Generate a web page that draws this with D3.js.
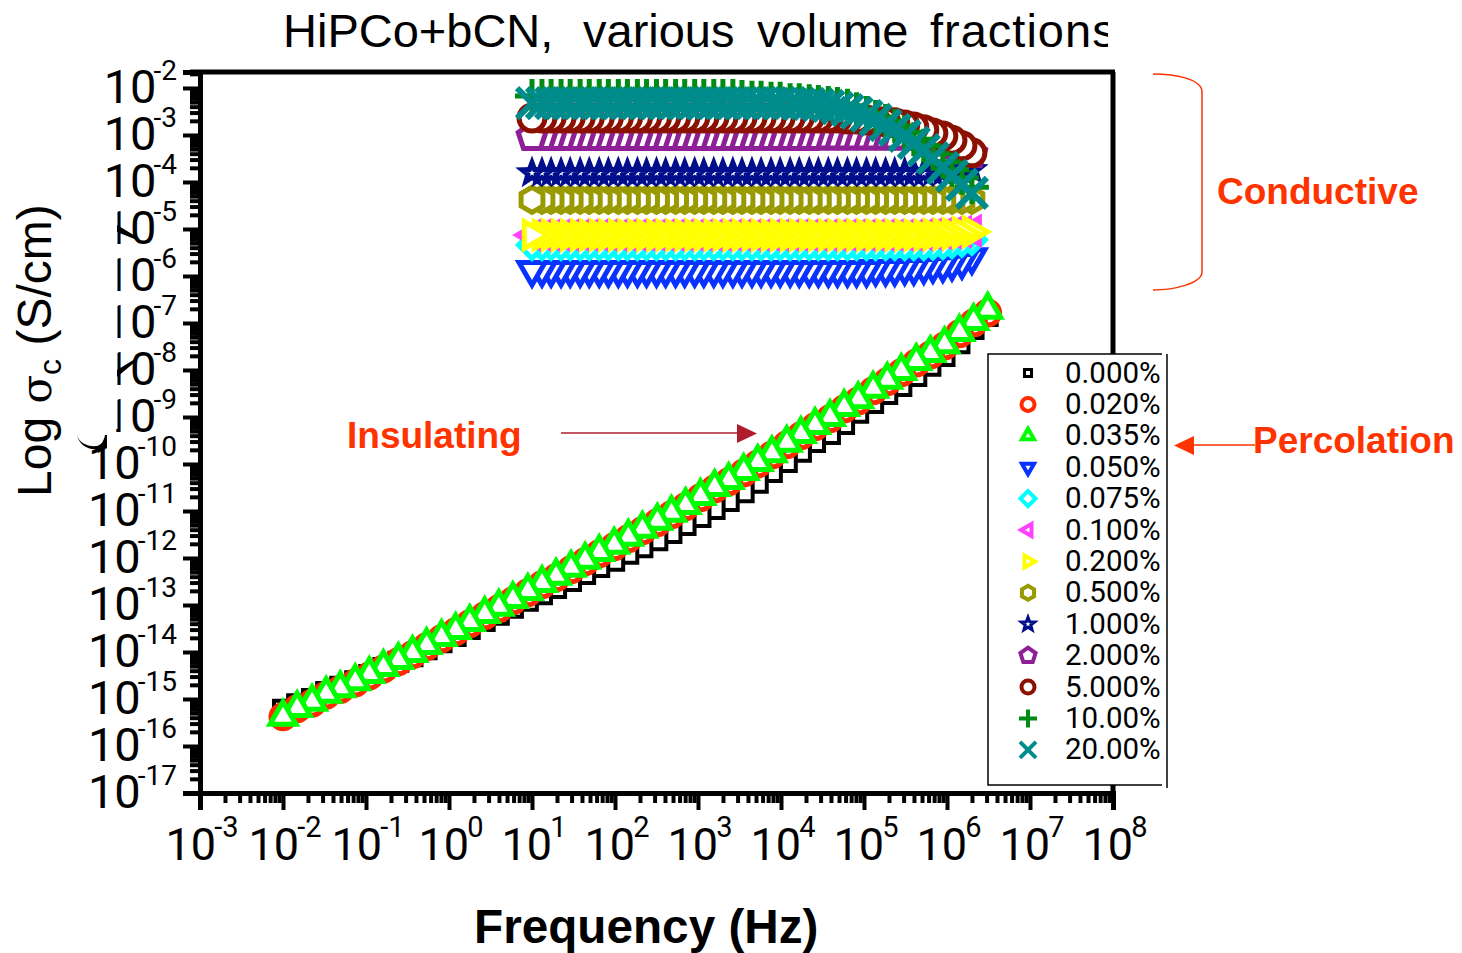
<!DOCTYPE html>
<html>
<head>
<meta charset="utf-8">
<script src="https://d3js.org/d3.v7.min.js"></script>
<style>
  html, body { margin: 0; padding: 0; background: #fff; }
  svg { display: block; }
  text { font-family: "Liberation Sans", Arial, sans-serif; fill: #000; }
  .num { font-family: Roboto, "Liberation Sans", sans-serif; }
</style>
</head>
<body>
<svg id="chart" width="1462" height="953"></svg>
<script>
// frequency sweeps, log10(Hz)
const lowFreq = [-2.00,-1.83,-1.65,-1.48,-1.31,-1.13,-0.96,-0.79,-0.61,-0.44,-0.27,-0.09,0.08,0.25,0.43,0.60,0.77,0.95,1.12,1.29,1.47,1.64,1.81,1.99,2.16,2.33,2.51,2.68,2.85,3.03,3.20,3.37,3.55,3.72,3.89,4.07,4.24,4.41,4.59,4.76,4.93,5.11,5.28,5.45,5.63,5.80,5.97,6.15,6.32,6.49];
const highFreq = [1.00,1.12,1.23,1.35,1.46,1.58,1.69,1.81,1.92,2.04,2.15,2.27,2.38,2.50,2.61,2.73,2.84,2.96,3.07,3.19,3.30,3.42,3.53,3.65,3.76,3.88,3.99,4.11,4.22,4.34,4.45,4.57,4.68,4.80,4.91,5.03,5.14,5.26,5.37,5.49,5.60,5.72,5.83,5.95,6.06,6.18,6.30];

// conductivity, log10(S/cm)
const s000 = [-15.23,-15.11,-15.00,-14.85,-14.74,-14.62,-14.49,-14.34,-14.21,-14.09,-13.94,-13.79,-13.66,-13.51,-13.34,-13.21,-13.06,-12.91,-12.77,-12.64,-12.49,-12.34,-12.19,-12.06,-11.91,-11.77,-11.62,-11.47,-11.30,-11.13,-10.96,-10.79,-10.60,-10.40,-10.17,-9.96,-9.74,-9.53,-9.36,-9.15,-8.91,-8.70,-8.51,-8.34,-8.13,-7.91,-7.70,-7.43,-7.13,-6.85];
const s020 = [-15.38,-15.21,-15.09,-14.92,-14.80,-14.66,-14.51,-14.36,-14.21,-14.06,-13.89,-13.72,-13.57,-13.40,-13.23,-13.08,-12.91,-12.74,-12.57,-12.42,-12.25,-12.08,-11.91,-11.76,-11.59,-11.42,-11.25,-11.08,-10.91,-10.72,-10.53,-10.38,-10.19,-10.00,-9.81,-9.59,-9.40,-9.21,-9.04,-8.83,-8.66,-8.44,-8.25,-8.06,-7.85,-7.68,-7.49,-7.23,-7.00,-6.79];
const s035 = [-15.38,-15.19,-15.06,-14.89,-14.77,-14.62,-14.47,-14.32,-14.17,-14.02,-13.85,-13.68,-13.53,-13.36,-13.19,-13.04,-12.87,-12.70,-12.53,-12.38,-12.21,-12.04,-11.87,-11.72,-11.55,-11.38,-11.21,-11.04,-10.87,-10.68,-10.49,-10.34,-10.15,-9.96,-9.77,-9.55,-9.36,-9.17,-9.00,-8.79,-8.62,-8.40,-8.21,-8.02,-7.81,-7.64,-7.45,-7.19,-6.96,-6.72];
const s050 = [-5.87,-5.87,-5.87,-5.87,-5.87,-5.87,-5.87,-5.87,-5.87,-5.87,
  -5.87,-5.87,-5.87,-5.87,-5.87,-5.87,-5.87,-5.87,-5.87,-5.87,
  -5.87,-5.87,-5.87,-5.87,-5.87,-5.87,-5.87,-5.87,-5.87,-5.87,
  -5.87,-5.87,-5.87,-5.87,-5.87,-5.87,-5.85,-5.85,-5.85,-5.83,
  -5.83,-5.81,-5.79,-5.77,-5.74,-5.70,-5.60];
const s075 = [-5.34,-5.34,-5.34,-5.34,-5.34,-5.34,-5.34,-5.34,-5.34,-5.34,
  -5.34,-5.34,-5.34,-5.34,-5.34,-5.34,-5.34,-5.34,-5.34,-5.34,
  -5.34,-5.34,-5.34,-5.34,-5.34,-5.34,-5.34,-5.34,-5.34,-5.34,
  -5.34,-5.34,-5.34,-5.34,-5.34,-5.34,-5.34,-5.34,-5.34,-5.34,
  -5.34,-5.34,-5.33,-5.32,-5.30,-5.27,-5.23];
const s100 = [-5.13,-5.13,-5.13,-5.13,-5.13,-5.13,-5.13,-5.13,-5.13,-5.13,
  -5.13,-5.13,-5.13,-5.13,-5.13,-5.13,-5.13,-5.13,-5.13,-5.13,
  -5.13,-5.13,-5.13,-5.13,-5.13,-5.13,-5.13,-5.13,-5.13,-5.13,
  -5.13,-5.13,-5.13,-5.13,-5.13,-5.13,-5.13,-5.13,-5.13,-5.13,
  -5.13,-5.12,-5.11,-5.10,-5.08,-5.06,-5.04];
const s200 = [-5.13,-5.13,-5.13,-5.13,-5.13,-5.13,-5.13,-5.13,-5.13,-5.13,
  -5.13,-5.13,-5.13,-5.13,-5.13,-5.13,-5.13,-5.13,-5.13,-5.13,
  -5.13,-5.13,-5.13,-5.13,-5.13,-5.13,-5.13,-5.13,-5.13,-5.13,
  -5.13,-5.13,-5.13,-5.13,-5.13,-5.13,-5.13,-5.13,-5.13,-5.13,
  -5.13,-5.13,-5.12,-5.11,-5.10,-5.08,-5.06];
const s500 = [-4.38,-4.38,-4.38,-4.38,-4.38,-4.38,-4.38,-4.38,-4.38,-4.38,
  -4.38,-4.38,-4.38,-4.38,-4.38,-4.38,-4.38,-4.38,-4.38,-4.38,
  -4.38,-4.38,-4.38,-4.38,-4.38,-4.38,-4.38,-4.38,-4.38,-4.38,
  -4.38,-4.38,-4.38,-4.38,-4.38,-4.38,-4.38,-4.38,-4.38,-4.38,
  -4.38,-4.38,-4.38,-4.38,-4.38,-4.38,-4.38];
const s1000 = [-3.81,-3.81,-3.81,-3.81,-3.81,-3.81,-3.81,-3.81,-3.81,-3.81,
  -3.81,-3.81,-3.81,-3.81,-3.81,-3.81,-3.81,-3.81,-3.81,-3.81,
  -3.81,-3.81,-3.81,-3.81,-3.81,-3.81,-3.81,-3.81,-3.81,-3.81,
  -3.81,-3.81,-3.81,-3.81,-3.81,-3.81,-3.81,-3.81,-3.81,-3.81,
  -3.81,-3.81,-3.80,-3.79,-3.78,-3.76,-3.74];
const s2000 = [-3.04,-3.04,-3.04,-3.04,-3.04,-3.04,-3.04,-3.04,-3.04,-3.04,
  -3.04,-3.04,-3.04,-3.04,-3.04,-3.04,-3.04,-3.04,-3.04,-3.04,
  -3.04,-3.04,-3.04,-3.04,-3.04,-3.04,-3.04,-3.04,-3.04,-3.04,
  -3.03,-3.03,-3.03,-3.03,-3.03,-3.03,-3.03,-3.03,-3.03,-3.03,
  -3.04,-3.06,-3.11,-3.15,-3.21,-3.30,-3.40];
const s5000 = [-2.64,-2.64,-2.64,-2.64,-2.64,-2.64,-2.64,-2.64,-2.64,-2.64,
  -2.64,-2.64,-2.64,-2.64,-2.64,-2.64,-2.64,-2.64,-2.64,-2.64,
  -2.64,-2.64,-2.64,-2.64,-2.64,-2.64,-2.64,-2.64,-2.64,-2.64,
  -2.64,-2.64,-2.64,-2.66,-2.66,-2.68,-2.70,-2.72,-2.74,-2.79,
  -2.83,-2.89,-2.96,-3.02,-3.11,-3.23,-3.38];
const s10000 = [-2.17,-2.17,-2.17,-2.17,-2.17,-2.17,-2.17,-2.17,-2.17,-2.17,
  -2.17,-2.17,-2.17,-2.17,-2.17,-2.17,-2.17,-2.17,-2.17,-2.17,
  -2.17,-2.17,-2.19,-2.21,-2.21,-2.23,-2.23,-2.26,-2.26,-2.28,
  -2.30,-2.32,-2.34,-2.38,-2.45,-2.53,-2.62,-2.70,-2.81,-2.94,
  -3.09,-3.23,-3.40,-3.57,-3.74,-3.91,-4.11];
const s20000 = [-2.32,-2.32,-2.32,-2.32,-2.32,-2.32,-2.32,-2.32,-2.32,-2.32,
  -2.32,-2.32,-2.32,-2.32,-2.32,-2.32,-2.32,-2.32,-2.32,-2.32,
  -2.32,-2.32,-2.32,-2.32,-2.32,-2.32,-2.32,-2.32,-2.34,-2.34,
  -2.36,-2.38,-2.43,-2.47,-2.53,-2.60,-2.68,-2.79,-2.89,-3.02,
  -3.17,-3.32,-3.49,-3.70,-3.87,-4.06,-4.23];

const legendLabels = ["0.000%","0.020%","0.035%","0.050%","0.075%","0.100%","0.200%","0.500%","1.000%","2.000%","5.000%","10.00%","20.00%"];
const seriesValues = [s000,s020,s035,s050,s075,s100,s200,s500,s1000,s2000,s5000,s10000,s20000];
const seriesColors = ["#000000","#ff2a00","#00ff00","#0a32ff","#00ffff","#ff40ff","#ffff00","#999900","#000e8c","#8e1f96","#8c1000","#008c14","#008c8c"];
const seriesShapes = ["square","circle","up","down","diamond","left","right","hexagon","star","pentagon","circle","plus","cross"];
const xTickExps = d3.range(-3, 9);
const yTickExps = d3.range(-17, -1);
const titleWords = [["HiPCo+bCN,", 283, 0], ["various", 583, 0], ["volume", 757, 0], ["fractions", 930, 1]];

// marker size per shape: [size, stroke] for the plot and for the legend
const plotSize = { square: [9, 4], circle: [13, 5], up: [15, 5], down: [15, 5], left: [15, 5], right: [15.5, 5], diamond: [13.5, 5], hexagon: [12.6, 5], star: [10.5, 5], pentagon: [14.5, 5], plus: [17, 5], cross: [15, 6] };
const legendSize = { square: [3.5, 3], circle: [6.5, 4], up: [7, 4], down: [7, 4], left: [7, 4], right: [7, 4], diamond: [7.5, 4], hexagon: [7, 4], star: [7, 3], pentagon: [8, 4], plus: [9, 4], cross: [8, 4] };
const redCircleSize = [12, 5]; // the 0.020% circles are a touch smaller than the 5% ones

const svg = d3.select("#chart");
const topExp = -1.66;
const x = d3.scaleLog().domain([1e-3, 1e8]).range([200, 1113]);
const y = d3.scaleLog().domain([1e-17, Math.pow(10, topExp)]).range([793, 72]);

function shapePath(kind, r) {
  const poly = (n, rot) => d3.range(n).map(i => {
    const a = rot + i * 2 * Math.PI / n;
    return [r * Math.sin(a), -r * Math.cos(a)];
  });
  const close = pts => "M" + pts.map(p => p.map(v => v.toFixed(2)).join(",")).join("L") + "Z";
  switch (kind) {
    case "square": return close([[-r,-r],[r,-r],[r,r],[-r,r]]);
    case "circle": return d3.arc()({innerRadius: 0, outerRadius: r, startAngle: 0, endAngle: 2 * Math.PI});
    case "up": return close(poly(3, 0));
    case "down": return close(poly(3, Math.PI));
    case "left": return close(poly(3, -Math.PI / 2));
    case "right": return close(poly(3, Math.PI / 2));
    case "diamond": return close(poly(4, 0));
    case "hexagon": return close(poly(6, 0));
    case "pentagon": return close(poly(5, 0));
    case "star": {
      const outer = poly(5, 0);
      const inner = d3.range(5).map(i => {
        const a = Math.PI / 5 + i * 2 * Math.PI / 5;
        return [0.42 * r * Math.sin(a), -0.42 * r * Math.cos(a)];
      });
      return close(d3.range(5).flatMap(i => [outer[i], inner[i]]));
    }
    case "plus": return `M${-r},0H${r}M0,${-r}V${r}`;
    case "cross": return `M${-r},${-r}L${r},${r}M${-r},${r}L${r},${-r}`;
  }
}

function drawSymbol(g, kind, color, size) {
  g.append("path")
    .attr("d", shapePath(kind, size[0]))
    .attr("fill", kind === "plus" || kind === "cross" ? "none" : "#fff")
    .attr("stroke", color)
    .attr("stroke-width", size[1])
    .attr("stroke-miterlimit", 6);
}

// y axis title
const yTitle = svg.append("text")
  .attr("transform", "translate(51,497) rotate(-90)")
  .attr("font-size", 48);
yTitle.append("tspan").text("Log ");
yTitle.append("tspan").attr("font-family", "DejaVu Serif").attr("font-size", 42).text("σ");
yTitle.append("tspan").attr("font-size", 32).attr("dy", 10).text("c");
yTitle.append("tspan").attr("dy", -10).text(" (S/cm)");

// plot frame
const frame = svg.append("g").attr("stroke", "#000").attr("fill", "none");
frame.append("line").attr("x1", 190).attr("x2", 1115).attr("y1", y(Math.pow(10, topExp))).attr("y2", y(Math.pow(10, topExp))).attr("stroke-width", 5);
frame.append("line").attr("x1", 1113).attr("x2", 1113).attr("y1", 72).attr("y2", 795).attr("stroke-width", 5);

// axes
const xAxisG = svg.append("g").attr("transform", "translate(0,793)");
const yAxisG = svg.append("g").attr("transform", "translate(200,0)");

const xMinor = xTickExps.slice(0, -1).flatMap(e => d3.range(2, 10).map(m => m * Math.pow(10, e)));
xAxisG.call(d3.axisBottom(x).tickValues(xMinor).tickSize(10).tickFormat(""));
xAxisG.append("g").call(d3.axisBottom(x).tickValues(xTickExps.map(e => Math.pow(10, e))).tickSize(17).tickFormat(""));
xAxisG.selectAll("line").attr("stroke", "#000").attr("stroke-width", 4);
xAxisG.selectAll(".domain").attr("stroke", "#000").attr("stroke-width", 5);

const yMinor = yTickExps.flatMap(e => d3.range(2, 10).map(m => m * Math.pow(10, e))).filter(v => v < Math.pow(10, topExp));
yAxisG.call(d3.axisLeft(y).tickValues(yMinor).tickSize(10).tickFormat(""));
yAxisG.append("g").call(d3.axisLeft(y).tickValues(yTickExps.map(e => Math.pow(10, e))).tickSize(17).tickFormat(""));
yAxisG.selectAll("line").attr("stroke", "#000").attr("stroke-width", 4);
yAxisG.selectAll(".domain").attr("stroke", "#000").attr("stroke-width", 5);

// tick labels
xTickExps.forEach(e => {
  const t = svg.append("text")
    .attr("class", "num")
    .attr("x", x(Math.pow(10, e)) + 2)
    .attr("y", 860)
    .attr("text-anchor", "middle")
    .attr("font-size", 45);
  t.append("tspan").text("10");
  t.append("tspan").attr("font-size", 29).attr("dy", -23).attr("dx", -2).text(e);
});
yTickExps.forEach(e => {
  const yy = y(Math.pow(10, e));
  const t = svg.append("text")
    .attr("class", "num")
    .attr("x", 177)
    .attr("y", yy + 15)
    .attr("text-anchor", "end")
    .attr("font-size", 47);
  t.append("tspan").text("10");
  t.append("tspan").attr("font-size", 28).attr("dy", -23).attr("dx", -3).text(e);
});

// the source has a pasted patch over the 1s of these labels, with bits of an old label left on it
svg.append("rect").attr("x", 100).attr("y", 207).attr("width", 17.5).attr("height", 222).attr("fill", "#fff");
const scraps = svg.append("g").attr("fill", "#000");
scraps.append("path").attr("d", "M117,225 L137,237 L137,240 L117,232Z");
scraps.append("path").attr("d", "M117,370 L135,359 L135,362 L117,377Z");
scraps.append("path").attr("d", "M77,435 C79,443 88,447 97,446 C101,445 104,441 105,435 L107,435 L107,448 L98,453 L97,449 C88,450 79,445 77,435Z");

// data: later series sit on top, and within a series the first point is on top
seriesValues.forEach((vals, i) => {
  const freq = i < 3 ? lowFreq : highFreq;
  const size = i === 1 ? redCircleSize : plotSize[seriesShapes[i]];
  const points = vals.map((v, k) => ({ f: freq[k], v })).reverse();
  svg.append("g")
    .selectAll("g")
    .data(points)
    .join("g")
    .attr("transform", d => `translate(${x(Math.pow(10, d.f))},${y(Math.pow(10, d.v))})`)
    .each(function () {
      drawSymbol(d3.select(this), seriesShapes[i], seriesColors[i], size);
    });
});

// legend
const legend = svg.append("g");
legend.append("rect").attr("x", 988).attr("y", 354).attr("width", 174).attr("height", 431).attr("fill", "#fff");
legend.append("path").attr("d", "M1162,354H988V785H1162").attr("fill", "none").attr("stroke", "#000").attr("stroke-width", 1.5);
legend.append("line").attr("x1", 1167).attr("x2", 1167).attr("y1", 354).attr("y2", 788).attr("stroke", "#000").attr("stroke-width", 1.5);
legendLabels.forEach((label, i) => {
  const yy = 373 + i * 31.4;
  const sym = legend.append("g").attr("transform", `translate(1028,${yy})`);
  drawSymbol(sym, seriesShapes[i], seriesColors[i], legendSize[seriesShapes[i]]);
  legend.append("text").attr("class", "num").attr("x", 1065).attr("y", yy + 9.5).attr("font-size", 29.5).text(label);
});

// title, cut off at the right like the source
svg.append("clipPath").attr("id", "titleClip").append("rect").attr("x", 0).attr("y", 0).attr("width", 1108).attr("height", 70);
const titleG = svg.append("g").attr("clip-path", "url(#titleClip)");
titleWords.forEach(w => {
  titleG.append("text").attr("x", w[1]).attr("y", 47).attr("font-size", 47).attr("letter-spacing", w[2]).text(w[0]);
});

svg.append("text")
  .attr("x", 474).attr("y", 943)
  .attr("font-size", 47.7).attr("font-weight", "bold")
  .text("Frequency (Hz)");

// annotations
const red = "#ff3300";
const note = (txt, xx, yy) => svg.append("text").attr("x", xx).attr("y", yy)
  .attr("font-size", 37).attr("font-weight", "bold").style("fill", red).text(txt);
note("Conductive", 1217, 204);
note("Insulating", 347, 448);
note("Percolation", 1253, 453);

svg.append("path")
  .attr("d", "M1153,74 C1175,74 1202,79 1202,92 L1202,272 C1202,283 1175,290 1153,290")
  .attr("fill", "none").attr("stroke", red).attr("stroke-width", 1.5);

svg.append("line").attr("x1", 561).attr("x2", 740).attr("y1", 433).attr("y2", 433).attr("stroke", "#b01c2e").attr("stroke-width", 1.5);
svg.append("path").attr("d", "M737,424L757,433.5L737,443Z").attr("fill", "#b01c2e");

svg.append("line").attr("x1", 1190).attr("x2", 1255).attr("y1", 445).attr("y2", 445).attr("stroke", red).attr("stroke-width", 1.5);
svg.append("path").attr("d", "M1194,436L1174,445.5L1194,455Z").attr("fill", red);
</script>
</body>
</html>
